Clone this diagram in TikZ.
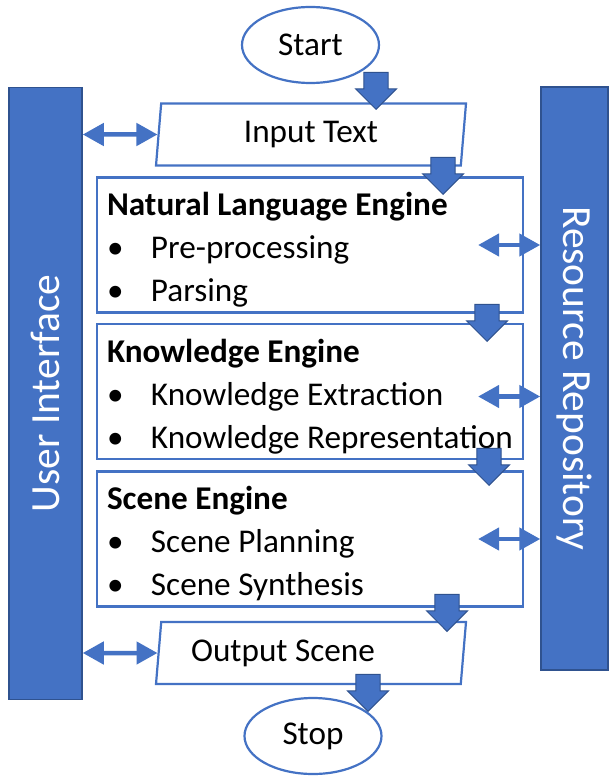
\documentclass[tikz,border=0pt]{standalone}
\usepackage{fontspec}
\setmainfont{Carlito}
\usetikzlibrary{shapes.geometric, shapes.arrows, arrows.meta, calc}

\definecolor{flowblue}{HTML}{4472C4}
\definecolor{flowdark}{HTML}{2F528F}

\newcommand{\enginestep}[1]{\makebox[44pt][l]{\textbullet}#1}
\newcommand{\enginetitle}[1]{\rule{0pt}{38pt}\textbf{#1}}
\newcommand{\engineend}{\rule[-11pt]{0pt}{11pt}}

\begin{document}
\begin{tikzpicture}[x=1pt, y=-1pt, >={Triangle[length=21pt, width=22pt]},
    every node/.style={font=\fontsize{33.2}{43}\selectfont},
    terminal/.style={ellipse, draw=flowblue, line width=2.2pt, minimum width=137pt, minimum height=76pt, inner sep=0pt},
    io/.style={trapezium, trapezium left angle=79, trapezium right angle=101, draw=flowblue, line width=2.2pt,
      minimum width=310pt, minimum height=62pt, trapezium stretches body, inner sep=0pt},
    engine/.style={rectangle, draw=flowblue, line width=2.2pt, minimum width=426pt, minimum height=135pt,
      text width=406pt, inner xsep=10pt, inner ysep=0pt, align=flush left},
    sidebar/.style={rectangle, fill=flowblue, draw=flowdark, line width=1.5pt},
    sidelabel/.style={text=white, font=\fontsize{41.5}{50}\selectfont},
    flow/.style={single arrow, shape border rotate=270, fill=flowblue, draw=flowdark, line width=1pt,
      minimum height=37pt, minimum width=41pt, inner sep=10pt, single arrow tip angle=90},
    link/.style={<->, draw=flowblue, line width=4.5pt}]

      \path[fill=white, use as bounding box] (0,0) rectangle (608,778);

      % Side panels
      \node[sidebar, minimum width=73pt, minimum height=612pt] (ui) at (45.5,393.5) {};
      \node[sidelabel, rotate=90] at (ui) {User Interface};
      \node[sidebar, minimum width=67pt, minimum height=583pt] (res) at (574.5,378.5) {};
      \node[sidelabel, rotate=-90] at (res) {Resource Repository};

      % Nodes
      \node[terminal] (start) at (310.5,45) {Start};
      \node[io] (input) at (311,134.5) {Input Text};
      \node[engine] (nle) at (310,245) {\enginetitle{Natural Language Engine}\\
        \enginestep{Pre-processing}\\ \enginestep{Parsing}\engineend};
      \node[engine] (ke) at (310,391.5) {\enginetitle{Knowledge Engine}\\
        \enginestep{Knowledge Extraction}\\ \enginestep{Knowledge Representation}\engineend};
      \node[engine] (se) at (310,539) {\enginetitle{Scene Engine}\\
        \enginestep{Scene Planning}\\ \enginestep{Scene Synthesis}\engineend};
      \node[io] (output) at (311,653) {Output Scene\hspace*{56pt}};
      \node[terminal] (stop) at (313,736) {Stop};

      % Edges
      \draw[link] (ui.east |- input) -- (input.west);
      \draw[link] (ui.east |- output) -- (output.west);
      \draw[link] ($(nle.east)+(-46,0)$) -- (res.west |- nle.east);
      \draw[link] ($(ke.east)+(-46,5)$) -- ($(res.west |- ke.east)+(0,5)$);
      \draw[link] ($(se.east)+(-46,0)$) -- (res.west |- se.east);

      % Flow arrows
      \node[flow, anchor=tip] (s1) at (376,110) {};
      \node[flow, anchor=tip] (s2) at (443,195) {};
      \node[flow, anchor=tip] (s3) at (487,342) {};
      \node[flow, anchor=tip] (s4) at (489,486) {};
      \node[flow, anchor=tip] (s5) at (447,632) {};
      \node[flow, anchor=tip] (s6) at (368,712) {};
    \end{tikzpicture}
\end{document}
